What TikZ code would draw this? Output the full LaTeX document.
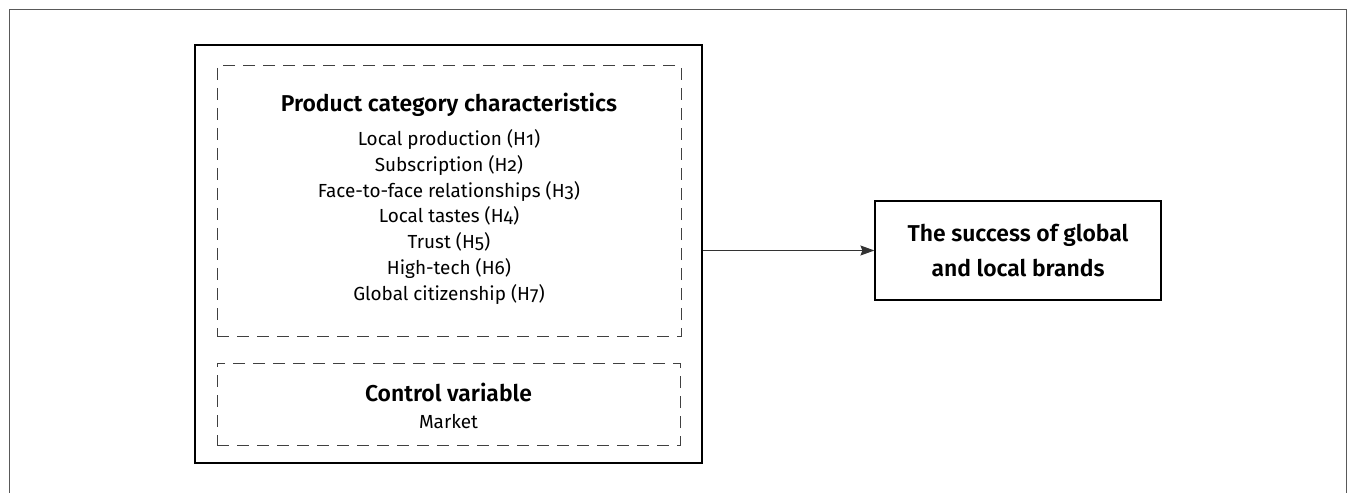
\documentclass[tikz,border=0pt]{standalone}
\usepackage{fontspec}
\setmainfont{Fira Sans}[Numbers=OldStyle, BoldFont={Fira Sans SemiBold}]
\usetikzlibrary{arrows.meta}
\begin{document}
\begin{tikzpicture}[x=1bp,y=-1bp,
  frame/.style={draw=black!65, line width=1.6bp},
  dashbox/.style={draw=black!75, line width=1bp, dash pattern=on 12bp off 8bp},
  titletext/.style={font=\bfseries\fontsize{23}{27}\selectfont},
  itemtext/.style={font=\fontsize{19}{26}\selectfont, align=center},
  conn/.style={draw=black!80, line width=1bp, -{Stealth[length=14bp,width=10bp,inset=2bp]}}
]
\useasboundingbox (0,0) rectangle (1349,493);
\coordinate (fa) at (9.5,500);
\coordinate (fb) at (9.5,9.5);
\coordinate (fc) at (1346.5,9.5);
\coordinate (fd) at (1346.5,500);
\draw[frame] (fa) -- (fb) -- (fc) -- (fd);

\node[draw=black, line width=1.2bp, minimum width=507bp, minimum height=418bp, inner sep=0pt] (main) at (448.5,254) {};
\node[dashbox, minimum width=464bp, minimum height=270bp, inner sep=0pt] (pcc) at (449,201) {};
\node[dashbox, minimum width=463bp, minimum height=82bp, inner sep=0pt] (ctrl) at (448.5,404) {};

\node[titletext] (pcct) at (449,105) {Product category characteristics};
\node[itemtext] (pcci) at (449,217) {Local production (H1)\\Subscription (H2)\\Face-to-face relationships (H3)\\Local tastes (H4)\\Trust (H5)\\High-tech (H6)\\Global citizenship (H7)};

\node[titletext] (ctrlt) at (448.5,392) {Control variable};
\node[itemtext] (ctrli) at (448.5,422) {Market};

\node[draw=black, line width=1.2bp, minimum width=286bp, minimum height=99bp, inner sep=0pt,
  font=\bfseries\fontsize{23}{35}\selectfont, align=center] (tgt) at (1018,250.5) {The success of global\\and local brands};

\draw[conn] (main.east |- tgt.west) -- (tgt.west);
\end{tikzpicture}
\end{document}
